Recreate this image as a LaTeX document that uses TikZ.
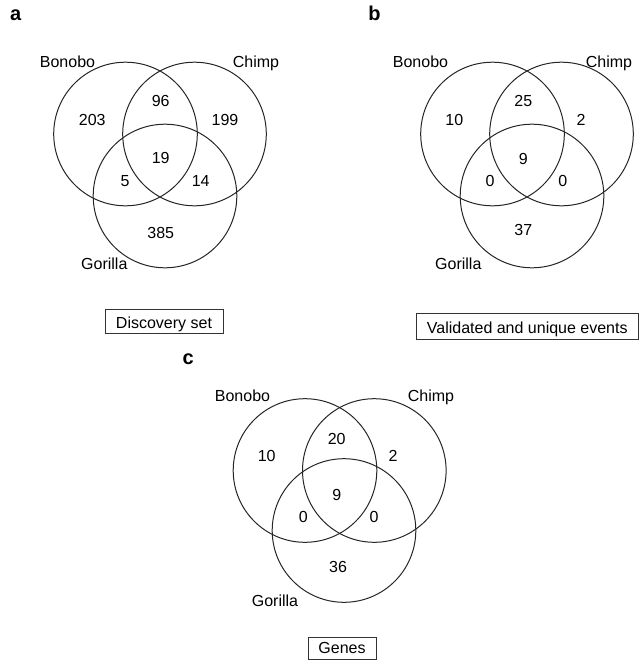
\documentclass[tikz,border=0pt]{standalone}
\usepackage{fontspec}
\setmainfont{Liberation Sans}

\begin{document}
\begin{tikzpicture}[x=1pt, y=-1pt,
  ring/.style={draw=black!85, line width=1pt},
  lbl/.style={anchor=base, inner sep=0pt, font=\fontsize{16}{19}\selectfont},
  tag/.style={anchor=base, inner sep=0pt, font=\fontsize{20}{24}\selectfont\bfseries},
  setbox/.style={draw=black!80, line width=0.9pt, anchor=base, inner xsep=0pt, inner ysep=0pt, font=\fontsize{16}{19}\selectfont}]
  % Page size of the reference
  \useasboundingbox (0,0) rectangle (639,661);

  % Panel a: discovery set
  \node[tag] (a-tag) at (15.8,20.7) {a};
  \draw[ring] (125.5,134) circle (71.8);
  \draw[ring] (194.5,134) circle (71.8);
  \draw[ring] (165,196) circle (71.8);
  \node[lbl] (a-bonobo) at (67.5,67.3) {Bonobo};
  \node[lbl] (a-chimp) at (256,67.3) {Chimp};
  \node[lbl] (a-gorilla) at (104.3,269.5) {Gorilla};
  \node[lbl] (a-b) at (92.3,125) {203};
  \node[lbl] (a-bc) at (160.7,106.7) {96};
  \node[lbl] (a-c) at (225,125) {199};
  \node[lbl] (a-bcg) at (160.7,163.3) {19};
  \node[lbl] (a-bg) at (125,186) {5};
  \node[lbl] (a-cg) at (200.7,186) {14};
  \node[lbl] (a-g) at (160.7,238.3) {385};
  \node[setbox, minimum width=118pt, text height=19pt, text depth=5pt] (a-set) at (164,328.3) {Discovery set};

  % Panel b: validated and unique events
  \node[tag] (b-tag) at (374.5,21) {b};
  \draw[ring] (492.5,134) circle (71.8);
  \draw[ring] (561.5,134) circle (71.8);
  \draw[ring] (532,196) circle (71.8);
  \node[lbl] (b-bonobo) at (420.5,67.3) {Bonobo};
  \node[lbl] (b-chimp) at (609,67.3) {Chimp};
  \node[lbl] (b-gorilla) at (458.3,269.5) {Gorilla};
  \node[lbl] (b-b) at (454.3,125) {10};
  \node[lbl] (b-bc) at (523.3,106.7) {25};
  \node[lbl] (b-c) at (581,125) {2};
  \node[lbl] (b-bcg) at (523.3,164) {9};
  \node[lbl] (b-bg) at (490,186.7) {0};
  \node[lbl] (b-cg) at (562.7,186.7) {0};
  \node[lbl] (b-g) at (523.3,235.7) {37};
  \node[setbox, minimum width=222.5pt, text height=20pt, text depth=6pt] (b-set) at (527.25,333.3) {Validated and unique events};

  % Panel c: genes
  \node[tag] (c-tag) at (188.3,364) {c};
  \draw[ring] (305,470.5) circle (71.8);
  \draw[ring] (374.3,470.5) circle (71.8);
  \draw[ring] (344,530.5) circle (71.8);
  \node[lbl] (c-bonobo) at (242.5,401.7) {Bonobo};
  \node[lbl] (c-chimp) at (431,401.7) {Chimp};
  \node[lbl] (c-gorilla) at (275,606) {Gorilla};
  \node[lbl] (c-b) at (266.7,461) {10};
  \node[lbl] (c-bc) at (336.7,444) {20};
  \node[lbl] (c-c) at (393,461) {2};
  \node[lbl] (c-bcg) at (336.7,500.7) {9};
  \node[lbl] (c-bg) at (303.3,522.7) {0};
  \node[lbl] (c-cg) at (374,522.7) {0};
  \node[lbl] (c-g) at (338,572) {36};
  \node[setbox, minimum width=68pt, text height=16.5pt, text depth=5.5pt] (c-set) at (342,653.5) {Genes};
\end{tikzpicture}
\end{document}
